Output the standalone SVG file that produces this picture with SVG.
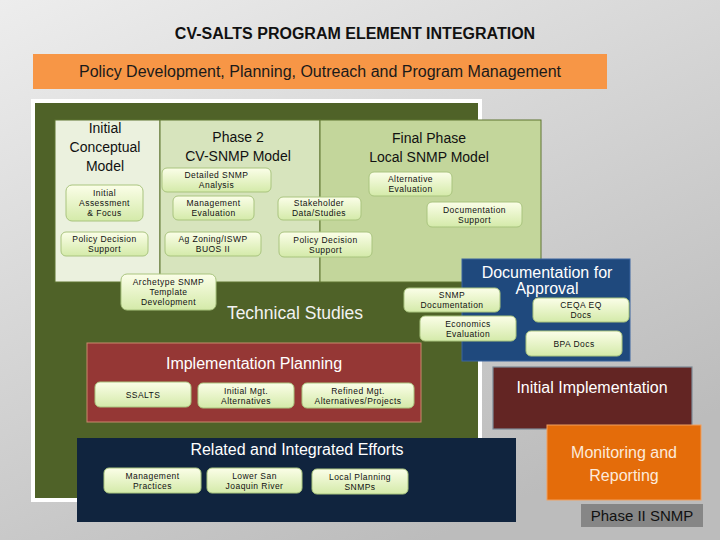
<svg xmlns="http://www.w3.org/2000/svg" width="720" height="540" viewBox="0 0 720 540">
  <defs>
    <linearGradient id="bg" x1="0" y1="0" x2="0.6" y2="1">
      <stop offset="0" stop-color="#ededed"/>
      <stop offset="1" stop-color="#bcbcbc"/>
    </linearGradient>
    <linearGradient id="ng" x1="0" y1="0" x2="0" y2="1">
      <stop offset="0" stop-color="#fbfee8"/>
      <stop offset="1" stop-color="#d4eaa9"/>
    </linearGradient>
    <style>
      text { font-family: "Liberation Sans", Arial, sans-serif; }
      .node rect { fill: url(#ng); stroke: #a9c47e; stroke-width: 1; }
      .node text { font-size: 8.5px; letter-spacing: 0.45px; fill: #111; text-anchor: middle; }
      .hdr { font-size: 14px; fill: #111; text-anchor: middle; }
      .big { font-size: 16px; fill: #ffffff; text-anchor: middle; }
    </style>
  </defs>

  <rect x="0" y="0" width="720" height="540" fill="url(#bg)"/>

  <!-- title -->
  <text x="355" y="39" font-size="16" font-weight="bold" fill="#111" text-anchor="middle">CV-SALTS PROGRAM ELEMENT INTEGRATION</text>

  <!-- policy bar -->
  <g id="policy">
    <rect x="33" y="54" width="574" height="35" fill="#f79646"/>
    <text x="320" y="77" font-size="16" fill="#1a1a1a" text-anchor="middle">Policy Development, Planning, Outreach and Program Management</text>
  </g>

  <!-- technical studies frame -->
  <g id="technical-studies">
    <rect x="31" y="99" width="451" height="403" fill="#ffffff"/>
    <rect x="35" y="103" width="443" height="395" fill="#4f6228"/>
    <text x="295" y="319" font-size="17.5" fill="#f2f2f2" text-anchor="middle">Technical Studies</text>
  </g>

  <!-- phase panels -->
  <g id="panel-initial">
    <rect x="55" y="120" width="105" height="162" fill="#ebf1de" stroke="#5f7530" stroke-width="1"/>
    <text class="hdr" x="105" y="133">Initial</text>
    <text class="hdr" x="105" y="152">Conceptual</text>
    <text class="hdr" x="105" y="171">Model</text>
  </g>
  <g id="panel-phase2">
    <rect x="160" y="120" width="160" height="162" fill="#d7e4bd" stroke="#5f7530" stroke-width="1"/>
    <text class="hdr" x="238" y="142">Phase 2</text>
    <text class="hdr" x="238" y="161">CV-SNMP Model</text>
  </g>
  <g id="panel-final">
    <rect x="320" y="120" width="221" height="162" fill="#c3d69b" stroke="#5f7530" stroke-width="1"/>
    <text class="hdr" x="429" y="143">Final Phase</text>
    <text class="hdr" x="429" y="162">Local SNMP Model</text>
  </g>

  <!-- documentation for approval -->
  <g id="doc-approval">
    <rect x="462" y="259" width="168" height="102" fill="#1f497d" stroke="#3b64a0" stroke-width="1"/>
    <text class="big" x="547" y="278">Documentation for</text>
    <text class="big" x="547" y="294">Approval</text>
  </g>

  <!-- initial implementation -->
  <g id="initial-implementation">
    <rect x="493" y="367" width="199" height="62" fill="#632523" stroke="#7d8a96" stroke-width="1.2"/>
    <text class="big" x="592" y="393">Initial Implementation</text>
  </g>

  <!-- implementation planning -->
  <g id="implementation-planning">
    <rect x="87" y="343" width="334" height="79" fill="#953735" stroke="#c98a6c" stroke-width="1"/>
    <text class="big" x="254" y="369" font-size="16.5">Implementation Planning</text>
  </g>

  <!-- related and integrated efforts -->
  <g id="related-efforts">
    <rect x="77" y="438" width="439" height="84" fill="#10243e"/>
    <text class="big" x="297" y="455" font-size="16.5">Related and Integrated Efforts</text>
  </g>

  <!-- monitoring and reporting -->
  <g id="monitoring">
    <rect x="547" y="425" width="154" height="75" fill="#e46c0a" stroke="#f0a060" stroke-width="1"/>
    <text x="624" y="458" font-size="16" fill="#fdeada" text-anchor="middle">Monitoring and</text>
    <text x="624" y="481" font-size="16" fill="#fdeada" text-anchor="middle">Reporting</text>
  </g>

  <!-- phase II label -->
  <g id="phase2-snmp">
    <rect x="581" y="504" width="122" height="23" fill="#868686"/>
    <text x="642" y="521" font-size="15" fill="#111" text-anchor="middle">Phase II SNMP</text>
  </g>

  <!-- nodes -->
  <g id="n-initial-assessment" class="node">
    <rect x="66" y="185" width="77" height="36" rx="6"/>
    <text x="104.5" y="196">Initial</text>
    <text x="104.5" y="206">Assessment</text>
    <text x="104.5" y="216">&amp; Focus</text>
  </g>
  <g id="n-policy-left" class="node">
    <rect x="61" y="232" width="87" height="24" rx="5"/>
    <text x="104.5" y="242">Policy Decision</text>
    <text x="104.5" y="252">Support</text>
  </g>
  <g id="n-detailed-snmp" class="node">
    <rect x="162" y="168" width="109" height="24" rx="5"/>
    <text x="216.5" y="178">Detailed SNMP</text>
    <text x="216.5" y="188">Analysis</text>
  </g>
  <g id="n-mgmt-eval" class="node">
    <rect x="173" y="196" width="81" height="24" rx="5"/>
    <text x="213.5" y="206">Management</text>
    <text x="213.5" y="216">Evaluation</text>
  </g>
  <g id="n-ag-zoning" class="node">
    <rect x="165" y="232" width="96" height="24" rx="5"/>
    <text x="213" y="242">Ag Zoning/ISWP</text>
    <text x="213" y="252">BUOS II</text>
  </g>
  <g id="n-archetype" class="node">
    <rect x="121" y="274" width="95" height="36" rx="6"/>
    <text x="168.5" y="285">Archetype SNMP</text>
    <text x="168.5" y="295">Template</text>
    <text x="168.5" y="305">Development</text>
  </g>
  <g id="n-stakeholder" class="node">
    <rect x="278" y="197" width="83" height="23" rx="5"/>
    <text x="319" y="205.5">Stakeholder</text>
    <text x="319" y="215.5">Data/Studies</text>
  </g>
  <g id="n-policy-mid" class="node">
    <rect x="279" y="232" width="93" height="25" rx="5"/>
    <text x="325.5" y="242.5">Policy Decision</text>
    <text x="325.5" y="252.5">Support</text>
  </g>
  <g id="n-alt-eval" class="node">
    <rect x="369" y="172" width="83" height="24" rx="5"/>
    <text x="410.5" y="182">Alternative</text>
    <text x="410.5" y="192">Evaluation</text>
  </g>
  <g id="n-doc-support" class="node">
    <rect x="427" y="202" width="95" height="25" rx="5"/>
    <text x="474.5" y="212.5">Documentation</text>
    <text x="474.5" y="222.5">Support</text>
  </g>
  <g id="n-snmp-doc" class="node">
    <rect x="404" y="288" width="96" height="24" rx="5"/>
    <text x="452" y="298">SNMP</text>
    <text x="452" y="308">Documentation</text>
  </g>
  <g id="n-econ-eval" class="node">
    <rect x="420" y="316" width="96" height="25" rx="5"/>
    <text x="468" y="326.5">Economics</text>
    <text x="468" y="336.5">Evaluation</text>
  </g>
  <g id="n-ceqa" class="node">
    <rect x="533" y="298" width="96" height="24" rx="5"/>
    <text x="581" y="308">CEQA EQ</text>
    <text x="581" y="318">Docs</text>
  </g>
  <g id="n-bpa" class="node">
    <rect x="526" y="331" width="96" height="25" rx="5"/>
    <text x="574" y="346.5">BPA Docs</text>
  </g>
  <g id="n-ssalts" class="node">
    <rect x="95" y="382" width="96" height="25" rx="5"/>
    <text x="143" y="397.5">SSALTS</text>
  </g>
  <g id="n-initial-mgt" class="node">
    <rect x="198" y="383" width="96" height="25" rx="5"/>
    <text x="246" y="393.5">Initial Mgt.</text>
    <text x="246" y="403.5">Alternatives</text>
  </g>
  <g id="n-refined-mgt" class="node">
    <rect x="302" y="383" width="112" height="25" rx="5"/>
    <text x="358" y="393.5">Refined Mgt.</text>
    <text x="358" y="403.5">Alternatives/Projects</text>
  </g>
  <g id="n-mgmt-practices" class="node">
    <rect x="104" y="468" width="97" height="25" rx="5"/>
    <text x="152.5" y="478.5">Management</text>
    <text x="152.5" y="488.5">Practices</text>
  </g>
  <g id="n-lower-sj" class="node">
    <rect x="207" y="468" width="95" height="25" rx="5"/>
    <text x="254.5" y="478.5">Lower San</text>
    <text x="254.5" y="488.5">Joaquin River</text>
  </g>
  <g id="n-local-planning" class="node">
    <rect x="312" y="469" width="96" height="25" rx="5"/>
    <text x="360" y="479.5">Local Planning</text>
    <text x="360" y="489.5">SNMPs</text>
  </g>

  <g id="connectors"/>
</svg>
